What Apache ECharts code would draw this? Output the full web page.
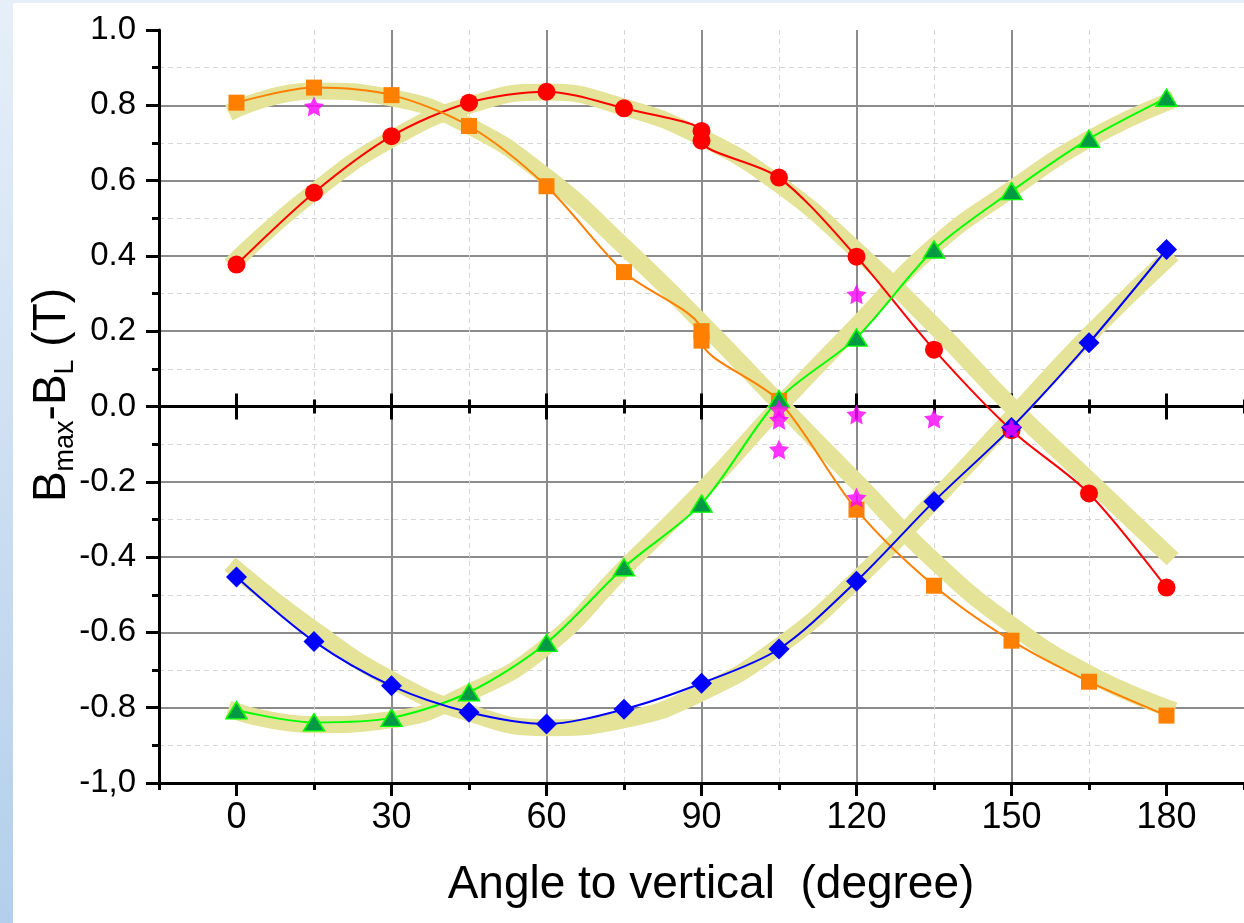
<!DOCTYPE html>
<html>
<head>
<meta charset="utf-8">
<script src="https://cdn.jsdelivr.net/npm/echarts@6/dist/echarts.min.js"></script>
<style>
  html, body { margin: 0; padding: 0; width: 1244px; height: 923px; overflow: hidden;
    background: linear-gradient(to bottom, #e6eff9 0%, #b3cfeb 100%); }
  #sheet { position: absolute; left: 13px; top: 3px; right: 0; bottom: 0; background: #ffffff; }
  #chart { position: absolute; left: 0; top: 0; width: 1244px; height: 923px; }
</style>
</head>
<body>
<div id="sheet"></div>
<div id="chart"></div>
<script>
// ---- axes ----
const xTickValues = [0, 30, 60, 90, 120, 150, 180];
const xTickLabels = ['0', '30', '60', '90', '120', '150', '180'];
const xMinorValues = [-15, 15, 45, 75, 105, 135, 165, 195];
const yTickValues = [-1, -0.8, -0.6, -0.4, -0.2, 0, 0.2, 0.4, 0.6, 0.8, 1];
const yTickLabels = ['-1,0', '-0.8', '-0.6', '-0.4', '-0.2', '0.0', '0.2', '0.4', '0.6', '0.8', '1.0'];

// ---- measured data ----
const redAngles = [0, 15, 30, 45, 60, 75, 90, 90, 105, 120, 135, 150, 165, 180];
const redValues = [0.377, 0.568, 0.718, 0.807, 0.836, 0.792, 0.732, 0.706, 0.608, 0.398, 0.151, -0.063, -0.231, -0.481];

const orangeAngles = [0, 15, 30, 45, 60, 75, 90, 90, 105, 120, 135, 150, 165, 180];
const orangeValues = [0.807, 0.847, 0.827, 0.745, 0.585, 0.357, 0.200, 0.175, 0.015, -0.274, -0.476, -0.622, -0.731, -0.821];

const greenAngles = [0, 15, 30, 45, 60, 75, 90, 105, 120, 135, 150, 165, 180];
const greenValues = [-0.807, -0.839, -0.827, -0.759, -0.628, -0.427, -0.258, 0.02, 0.183, 0.417, 0.572, 0.711, 0.82];

const blueAngles = [0, 15, 30, 45, 60, 75, 90, 105, 120, 135, 150, 165, 180];
const blueValues = [-0.453, -0.624, -0.742, -0.812, -0.843, -0.804, -0.735, -0.644, -0.464, -0.252, -0.056, 0.169, 0.417];

const starAngles = [15, 105, 105, 105, 120, 120, 120, 135, 150];
const starValues = [0.797, -0.008, -0.035, -0.114, 0.298, -0.021, -0.242, -0.032, -0.058];

// ---- fitted bands ----
const bandAngles = [0, 15, 30, 45, 60, 75, 90, 105, 120, 135, 150, 165, 180];
const bandA = [0.39, 0.57, 0.71, 0.80, 0.835, 0.795, 0.715, 0.59, 0.415, 0.215, 0.0, -0.195, -0.39];
const bandB = [0.79, 0.838, 0.82, 0.745, 0.61, 0.425, 0.223, 0.01, -0.2, -0.41, -0.58, -0.71, -0.80];
const bandC = [-0.81, -0.845, -0.832, -0.76, -0.637, -0.43, -0.225, 0.0, 0.215, 0.426, 0.577, 0.71, 0.808];
const bandD = [-0.433, -0.593, -0.726, -0.814, -0.853, -0.832, -0.76, -0.637, -0.46, -0.25, -0.03, 0.19, 0.39];

const FONT = '"Liberation Sans", Arial, sans-serif';
const pairs = (xs, ys) => xs.map((x, i) => [x, ys[i]]);
const STAR = 'path://M50,0 L64.69,29.77 L97.55,34.55 L73.78,57.73 L79.39,90.45 L50,75 L20.61,90.45 L26.22,57.73 L2.45,34.55 L35.31,29.77 Z';

const GRID_H = 753;
const baseX = { type: 'value', min: -15, max: 195, position: 'bottom' };
const blackTick = (len, inside) => ({ show: true, inside: inside, length: len, lineStyle: { color: '#000', width: 3 } });

// tick rows drawn along the y = 0 line
function zeroAxis(values, len, inside, showLine) {
  return Object.assign({}, baseX, {
    offset: -GRID_H / 2,
    axisLine: { show: showLine, onZero: false, lineStyle: { color: '#000', width: 3 } },
    axisTick: Object.assign(blackTick(len, inside), { customValues: values }),
    axisLabel: { show: false },
    splitLine: { show: false }
  });
}

function band(values) {
  return {
    type: 'line', data: pairs(bandAngles, values), smooth: 0.5, showSymbol: false, symbol: 'none',
    lineStyle: { color: '#e4e398', width: 17, cap: 'square' }, silent: true, z: 1
  };
}

function dataLine(xs, ys, color, symbol, size, itemStyle) {
  return {
    type: 'line', data: pairs(xs, ys), smooth: 0.3, symbol: symbol, symbolSize: size,
    showSymbol: true, showAllSymbol: true,
    lineStyle: { color: color, width: 2 },
    itemStyle: itemStyle, z: 3
  };
}

const chart = echarts.init(document.getElementById('chart'), null, { renderer: 'canvas' });
chart.setOption({
  animation: false,
  backgroundColor: 'transparent',
  grid: { left: 159, right: 0, top: 30, bottom: 140, containLabel: false, outerBoundsMode: 'none' },
  xAxis: [
    Object.assign({}, baseX, {
      axisLine: { show: true, onZero: false, lineStyle: { color: '#000', width: 3 } },
      axisTick: Object.assign(blackTick(13, false), { customValues: xTickValues }),
      axisLabel: {
        customValues: xTickValues,
        formatter: v => { const i = xTickValues.indexOf(Math.round(v)); return i >= 0 ? xTickLabels[i] : ''; },
        fontSize: 36, fontFamily: FONT, color: '#000', margin: 17
      },
      splitLine: { show: true, showMinLine: false, showMaxLine: false, lineStyle: { color: '#8c8c8c', width: 2 } }
    }),
    Object.assign({}, baseX, {
      axisLine: { show: false, onZero: false },
      axisTick: Object.assign(blackTick(7, false), { customValues: xMinorValues }),
      axisLabel: { show: false },
      splitLine: { show: true, showMinLine: false, showMaxLine: false, lineStyle: { color: '#d6d6d6', width: 1, type: [5, 4] } }
    }),
    zeroAxis(xTickValues, 13, true, true),
    zeroAxis(xTickValues, 13, false, false),
    zeroAxis(xMinorValues, 7, true, false),
    zeroAxis(xMinorValues, 7, false, false)
  ],
  yAxis: {
    type: 'value', min: -1, max: 1, interval: 0.2, position: 'left',
    axisLine: { show: true, onZero: false, lineStyle: { color: '#000', width: 3 } },
    axisTick: blackTick(13, false),
    minorTick: { show: true, splitNumber: 2, length: 7, lineStyle: { color: '#000', width: 3 } },
    axisLabel: {
      formatter: v => { const i = yTickValues.findIndex(t => Math.abs(t - v) < 1e-6); return i >= 0 ? yTickLabels[i] : ''; },
      fontSize: 33, fontFamily: FONT, color: '#000', margin: 23
    },
    splitLine: { show: true, showMinLine: false, showMaxLine: false, lineStyle: { color: '#8c8c8c', width: 2 } },
    minorSplitLine: { show: true, lineStyle: { color: '#d6d6d6', width: 1, type: [5, 4] } }
  },
  graphic: [
    {
      type: 'text', x: 711, y: 885,
      style: { text: 'Angle to vertical  (degree)', fontSize: 46, fontFamily: FONT, fill: '#000',
               align: 'center', verticalAlign: 'middle' }
    },
    {
      type: 'text', x: 52, y: 395, rotation: Math.PI / 2,
      style: {
        text: '{b|B}{s|max}{b|-B}{s|L}{b| (T)}',
        align: 'center', verticalAlign: 'middle', fill: '#000',
        rich: {
          b: { fontSize: 46, fontFamily: FONT, fill: '#000' },
          s: { fontSize: 27, fontFamily: FONT, fill: '#000', padding: [28, 0, 0, 0] }
        }
      }
    }
  ],
  series: [
    band(bandA), band(bandB), band(bandC), band(bandD),
    dataLine(redAngles, redValues, '#ff0000', 'circle', 18, { color: '#ff0000' }),
    dataLine(orangeAngles, orangeValues, '#ff7f00', 'rect', 16, { color: '#ff7f00' }),
    dataLine(greenAngles, greenValues, '#00ff00', 'triangle', [21, 17], { color: '#009a44', borderColor: '#00ff00', borderWidth: 1.5 }),
    dataLine(blueAngles, blueValues, '#0000ff', 'diamond', 21, { color: '#0000ff' }),
    {
      type: 'scatter', data: pairs(starAngles, starValues), symbol: STAR, symbolSize: 20,
      itemStyle: { color: '#ff00ff' }, z: 4
    }
  ]
});
</script>
</body>
</html>
